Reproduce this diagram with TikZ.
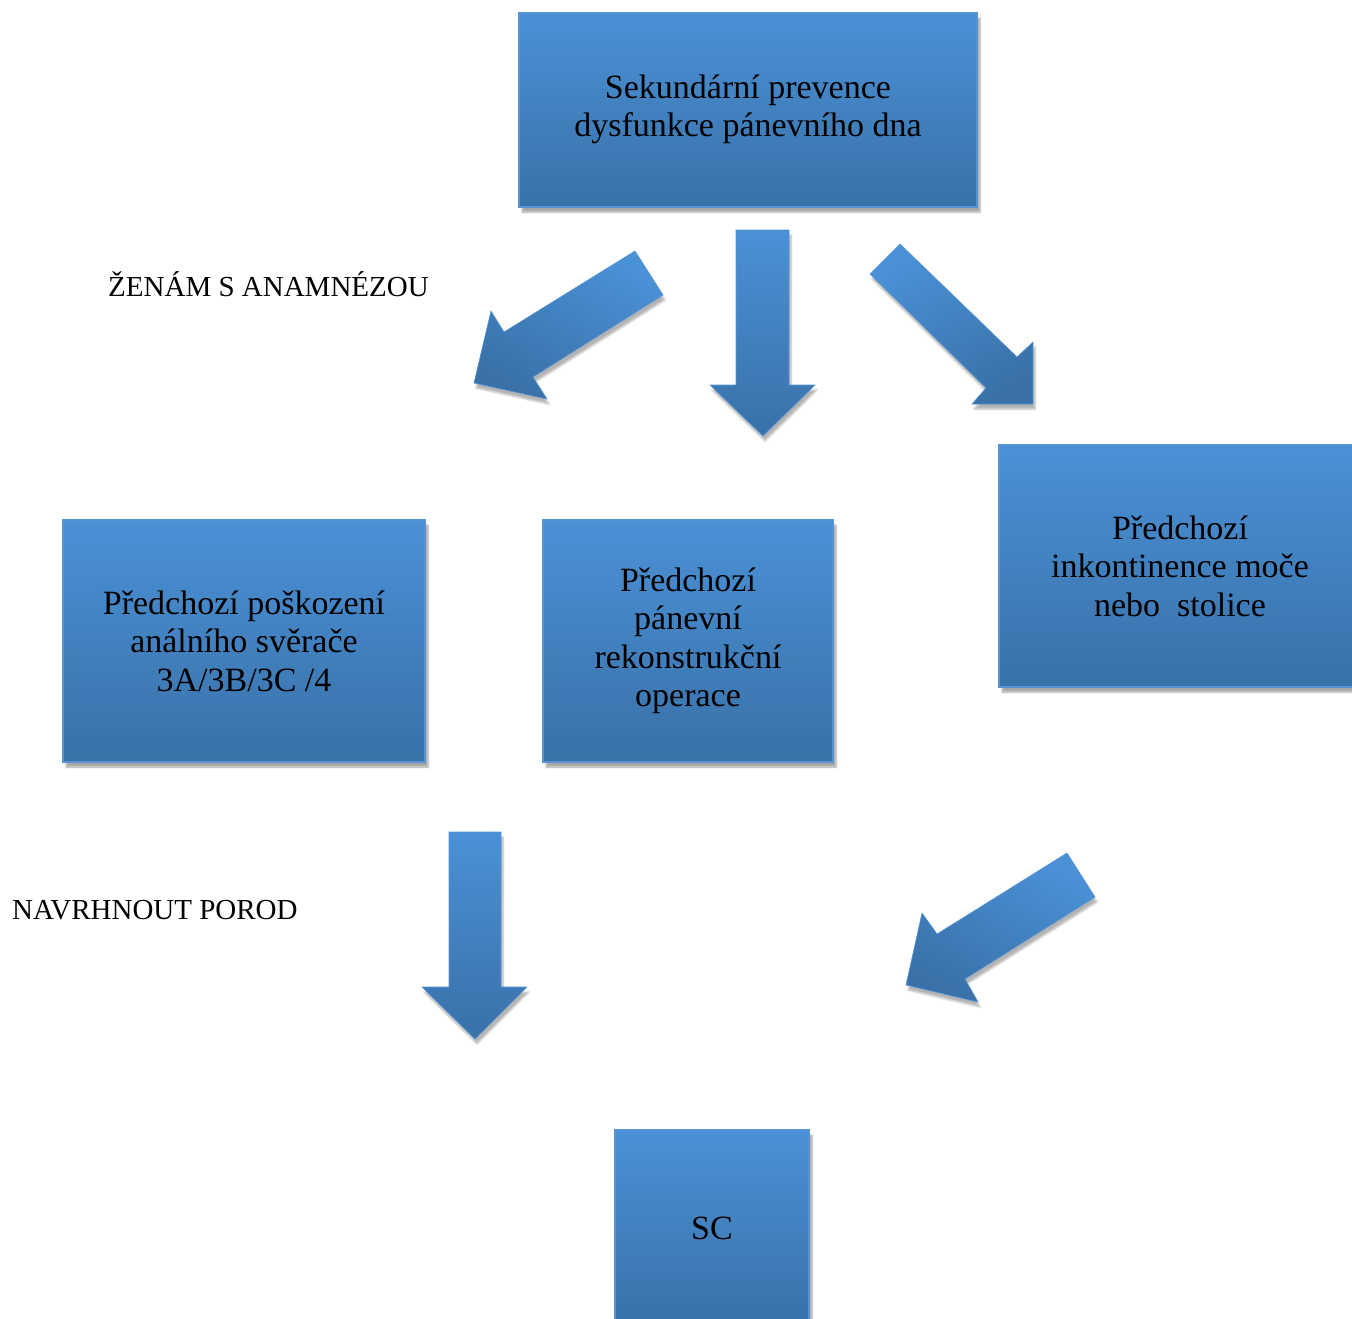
\documentclass[tikz,border=0pt]{standalone}
\usepackage{fontspec}
\setmainfont{Liberation Serif}
\usetikzlibrary{shadows.blur}
\definecolor{boxtop}{RGB}{74,145,214}
\definecolor{boxbot}{RGB}{57,113,168}
\definecolor{boxedge}{RGB}{86,148,214}
\tikzset{
  bluebox/.style={rectangle, draw=boxedge, line width=1.5pt, top color=boxtop, bottom color=boxbot,
    inner sep=0pt, align=center, font=\fontsize{34}{38.5}\selectfont, text=black,
    blur shadow={shadow xshift=3pt, shadow yshift=-5pt, shadow blur steps=6, shadow opacity=35}},
  blockarrow/.style={top color=boxtop, bottom color=boxbot, draw=boxedge, line width=0.6pt,
    blur shadow={shadow xshift=2pt, shadow yshift=-5pt, shadow blur steps=6, shadow opacity=30}},
  sidelabel/.style={anchor=west, inner sep=0pt, font=\fontsize{29}{34}\selectfont, text=black}
}
\begin{document}
\begin{tikzpicture}[x=1pt, y=-1pt]
\useasboundingbox (0,0) rectangle (1352,1319);
\clip (0,0) rectangle (1352,1319);

% boxes
\node[bluebox, minimum width=458pt, minimum height=194pt] (top) at (748,110)
  {\raisebox{-4pt}{\begin{tabular}{@{}c@{}}Sekundární prevence\\dysfunkce pánevního dna\end{tabular}}};
\node[bluebox, minimum width=362pt, minimum height=242pt] (left) at (244,641)
  {Předchozí poškození\\análního svěrače\\3A/3B/3C /4};
\node[bluebox, minimum width=290pt, minimum height=242pt] (mid) at (688,641)
  {Předchozí\\pánevní\\rekonstrukční\\operace};
\node[bluebox, minimum width=362pt, minimum height=242pt] (right) at (1180,566)
  {Předchozí\\inkontinence moče\\nebo\ \ stolice};
\node[bluebox, minimum width=194pt, minimum height=196pt] (sc) at (712,1228) {SC};

% labels
\node[sidelabel] (lab1) at (108,284) {ŽENÁM S ANAMNÉZOU};
\node[sidelabel] (lab2) at (12,910) {NAVRHNOUT POROD};

% arrow top-left (down-left)
\draw[blockarrow, shading angle=-30] (635,251) -- (663,295) -- (533,377) -- (547,399) -- (474,383)
  -- (491,311) -- (504,332) -- cycle;
% arrow top-middle (down)
\draw[blockarrow] (736,230) -- (789,230) -- (789,385) -- (815,385) -- (763,436) -- (710,385)
  -- (736,385) -- cycle;
% arrow top-right (down-right)
\draw[blockarrow, shading angle=30] (900,244) -- (1017,357) -- (1033,342) -- (1033,404) -- (972,404)
  -- (986,388) -- (870,274) -- cycle;
% arrow bottom-left (down)
\draw[blockarrow] (449,832) -- (501,832) -- (501,987) -- (527,987) -- (475,1039) -- (422,987)
  -- (449,987) -- cycle;
% arrow bottom-right (down-left)
\draw[blockarrow, shading angle=-30] (1067,853) -- (1095,897) -- (965,979) -- (978,1002) -- (906,985)
  -- (922,913) -- (937,934) -- cycle;
\end{tikzpicture}
\end{document}
